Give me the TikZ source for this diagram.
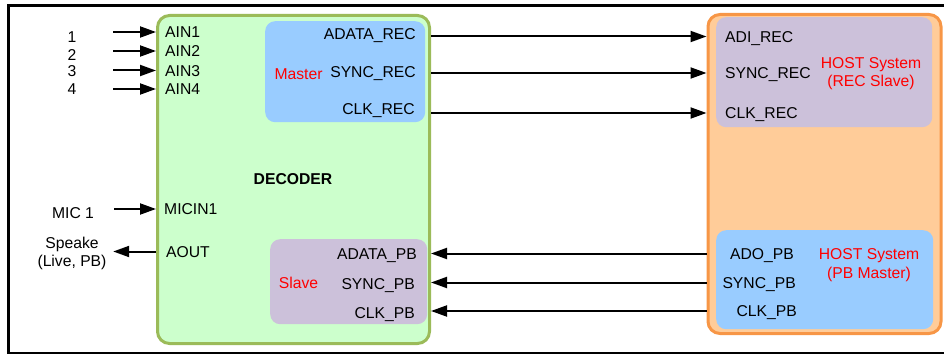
\documentclass[tikz,border=0pt]{standalone}
\usepackage{fontspec}
\setmainfont{Liberation Sans}
\usetikzlibrary{arrows.meta,positioning}
\definecolor{decFill}{HTML}{CCFFCC}
\definecolor{decLine}{HTML}{9BBB59}
\definecolor{hostFill}{HTML}{FFCC99}
\definecolor{hostLine}{HTML}{F79646}
\definecolor{masterFill}{HTML}{99CCFF}
\definecolor{slaveFill}{HTML}{CCC1DA}
\definecolor{roleRed}{HTML}{FF0000}
\newcommand\portfont{\fontsize{15.7}{18}\selectfont}
\newcommand\hostfont{\fontsize{15.7}{18.5}\selectfont}
\tikzset{
  chipBox/.style={
    line width=3pt,
    rounded corners=12pt,
    anchor=north west,
    inner sep=0pt
  },
  decBox/.style={chipBox, draw=decLine, fill=decFill},
  hostBox/.style={chipBox, draw=hostLine, fill=hostFill},
  roleBox/.style={rounded corners=10pt, anchor=north west, inner sep=0pt},
  portLabel/.style={
    inner sep=0pt,
    text height=11.2pt,
    text depth=0pt,
    font=\portfont
  },
  roleLabel/.style={portLabel, text=roleRed},
  hostLabel/.style={inner sep=0pt, align=center, text=roleRed, font=\hostfont},
  extLabel/.style={portLabel, minimum width=82pt, align=center},
  sigArrow/.style={-{Triangle[length=16pt,width=11pt]}, line width=2pt, black}
}

\begin{document}
\begin{tikzpicture}[x=1pt,y=-1pt]
  \useasboundingbox (0,0) rectangle (944,355);
  % frame
  \draw[line width=3.3pt] (944,5.7) -| (8.5,353);
  \draw[line width=2pt] (7,353) -- (944,353);

  % blocks
  \node[decBox, minimum width=272pt, minimum height=328pt] (dec) at (156,14) {};
  \node[hostBox, minimum width=233pt, minimum height=319pt] (host) at (706.5,13) {};
  \node[roleBox, fill=masterFill, minimum width=160pt, minimum height=101pt] (master) at (265,21) {};
  \node[roleBox, fill=slaveFill, minimum width=157pt, minimum height=85pt] (slave) at (270,239) {};
  \node[roleBox, fill=slaveFill, minimum width=216pt, minimum height=110pt] (recSlave) at (716,17) {};
  \node[roleBox, fill=masterFill, minimum width=217pt, minimum height=99pt] (pbMaster) at (716,230) {};

  % decoder ports
  \node[portLabel, anchor=west] (ain1) at (165,32) {AIN1};
  \node[portLabel, anchor=west] (ain2) at (165,51) {AIN2};
  \node[portLabel, anchor=west] (ain3) at (165,70.5) {AIN3};
  \node[portLabel, anchor=west] (ain4) at (165,89) {AIN4};
  \node[portLabel, anchor=west] (micin) at (164,209) {MICIN1};
  \node[portLabel, anchor=west] (aout) at (166,251.5) {AOUT};
  \node[portLabel, font=\portfont\bfseries] (decName) at (293,179) {DECODER};

  \node[portLabel, anchor=east] (adataRec) at (416,33.5) {ADATA\_REC};
  \node[portLabel, anchor=east] (syncRec) at (416,71.5) {SYNC\_REC};
  \node[portLabel, anchor=east] (clkRec) at (415,108.5) {CLK\_REC};
  \node[roleLabel] (masterTag) at (298.5,73.8) {Master};

  \node[portLabel, anchor=east] (adataPb) at (417,254) {ADATA\_PB};
  \node[portLabel, anchor=east] (syncPb) at (415,284) {SYNC\_PB};
  \node[portLabel, anchor=east] (clkPb) at (415,313) {CLK\_PB};
  \node[roleLabel] (slaveTag) at (298.5,282.5) {Slave};

  % host ports
  \node[portLabel, anchor=west] (adiRec) at (725,36.5) {ADI\_REC};
  \node[portLabel, anchor=west] (syncRecIn) at (725,73) {SYNC\_REC};
  \node[portLabel, anchor=west] (clkRecIn) at (725,113) {CLK\_REC};
  \node[hostLabel] (recHost) at (871,73.5) {HOST System\\(REC Slave)};

  \node[portLabel, anchor=east] (adoPb) at (794,253.5) {ADO\_PB};
  \node[portLabel, anchor=east] (syncPbOut) at (796,282.5) {SYNC\_PB};
  \node[portLabel, anchor=east] (clkPbOut) at (797,311) {CLK\_PB};
  \node[hostLabel] (pbHost) at (869,265) {HOST System\\(PB Master)};

  % external signals
  \node[extLabel] (in1) at (72,37) {1};
  \node[extLabel] (in2) at (72,54.5) {2};
  \node[extLabel] (in3) at (72,70.5) {3};
  \node[extLabel] (in4) at (72,89) {4};
  \node[extLabel] (mic) at (73,212.5) {MIC 1};
  \node[hostLabel, text=black, minimum width=82pt] (spk) at (72,253.5) {Speake\\(Live, PB)};

  \foreach \src/\dst in {in1/ain1, in2/ain2, in3/ain3, in4/ain4, mic/micin}
    \draw[sigArrow] (\src.east |- \dst) -- (dec.west |- \dst);
  \draw[sigArrow] (dec.west |- aout) -- (spk.east |- aout);

  \foreach \p in {adiRec, syncRecIn, clkRecIn}
    \draw[sigArrow] (dec.east |- \p) -- (host.west |- \p);
  \foreach \p in {adoPb, syncPbOut, clkPbOut}
    \draw[sigArrow] (host.west |- \p) -- (dec.east |- \p);
\end{tikzpicture}
\end{document}
